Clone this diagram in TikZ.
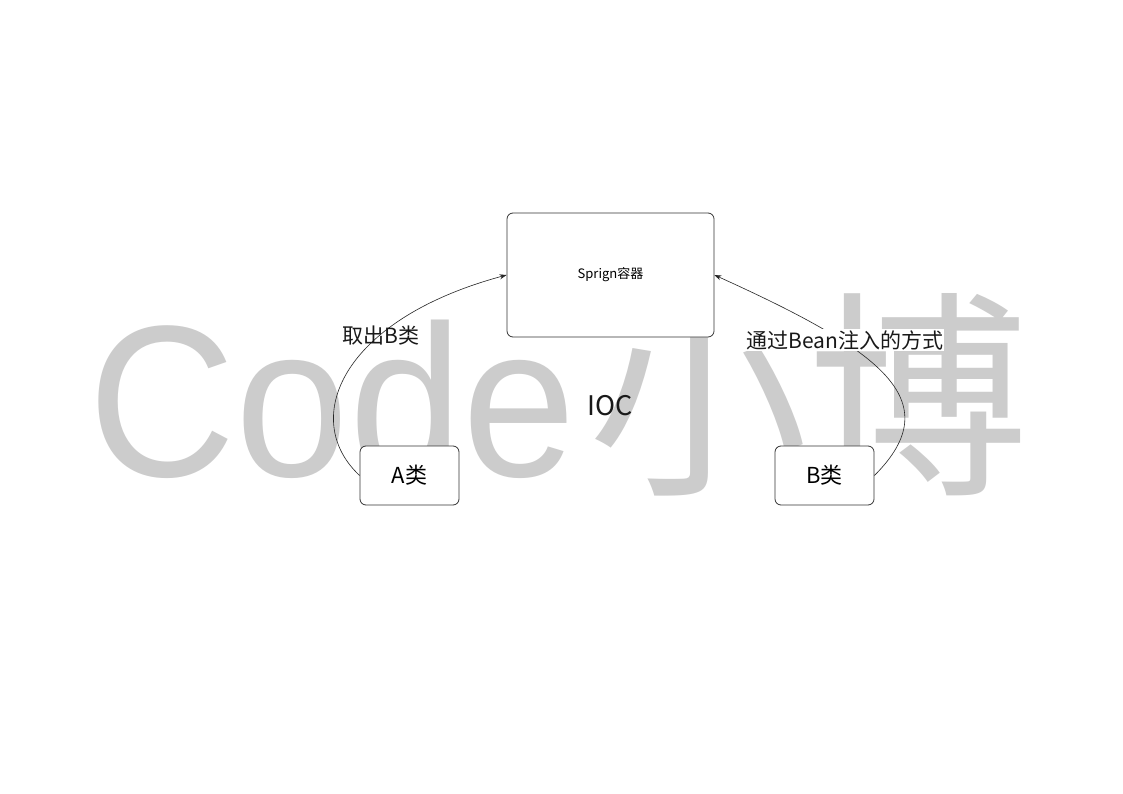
\documentclass[tikz,border=0pt]{standalone}
\usepackage{fontspec}
\setmainfont{Noto Sans CJK SC}
\newfontfamily\wmlatin{Liberation Sans}
\newfontfamily\cjkfont{Noto Sans CJK SC}
\usetikzlibrary{arrows.meta}
\definecolor{wmgray}{HTML}{CCCCCC}
\definecolor{edgeln}{HTML}{333333}
\begin{document}
\begin{tikzpicture}[x=1pt,y=-1pt,
  box/.style={draw=edgeln, fill=white, rounded corners=6pt, line width=0.8pt, inner sep=0pt},
  lbl/.style={font=\fontsize{21}{24}\selectfont, inner sep=1pt, text=black!90},
  conn/.style={draw=black!85, line width=0.6pt, -{Stealth[length=7pt,width=5pt]}}]
\useasboundingbox (0,0) rectangle (1123,794);
\fill[white] (0,0) rectangle (1123,794);
% watermark
\node[text=wmgray, anchor=base west, font=\wmlatin\fontsize{216}{216}\selectfont, xscale=0.945, inner sep=0pt] (wmcode) at (88,476) {Code};
\node[text=wmgray, anchor=base west, font=\cjkfont\fontsize{220}{220}\selectfont, inner sep=0pt] (wmcjk) at (588,478) {小博};
% boxes
\node[box, minimum width=207pt, minimum height=124pt] (spring) at (610.5,275) {\fontsize{13}{15}\selectfont Sprign容器};
\node[box, minimum width=99pt, minimum height=59pt] (A) at (409.5,475.5) {\fontsize{22}{24}\selectfont A类};
\node[box, minimum width=99pt, minimum height=59pt] (B) at (824.5,475.5) {\fontsize{22}{24}\selectfont B类};
% connectors
\draw[conn] (A.west) .. controls (300,420) and (340,320) .. (spring.west);
\draw[conn] (B.east) .. controls (950,400) and (880,350) .. (spring.east);
% labels
\node[lbl] (lblA) at (381,336) {取出B类};
\node[lbl, fill=white] (lblB) at (845,340) {通过Bean注入的方式};
\node[font=\fontsize{27}{30}\selectfont, text=black!90] (ioc) at (610,406) {IOC};
\end{tikzpicture}
\end{document}
